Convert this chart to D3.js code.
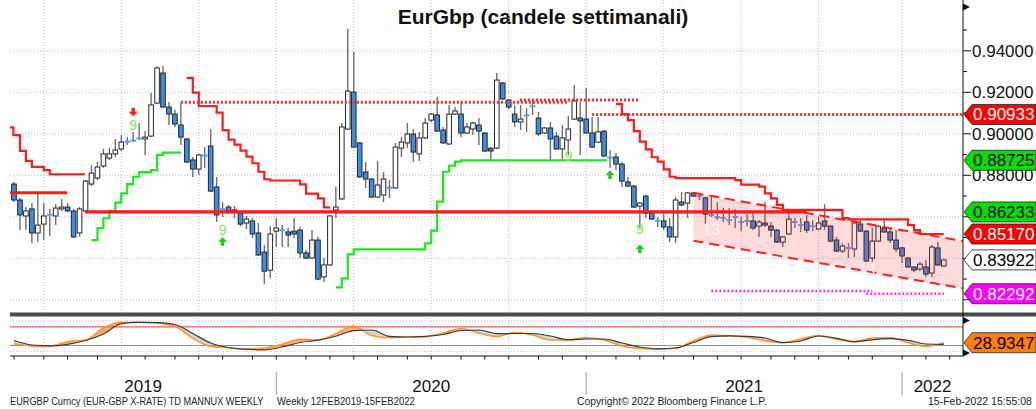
<!DOCTYPE html>
<html><head><meta charset="utf-8">
<script src="https://cdn.jsdelivr.net/npm/d3@7"></script>
<style>body{margin:0;background:#fff}svg{display:block}</style>
</head><body>
<svg id="c" width="1036" height="409"></svg>
<script>
// ---------- DATA (weekly EUR/GBP, bar 0 = week of 15 Feb 2019) ----------
const open = [0.8758,0.8681,0.8604,0.8638,0.8522,0.8565,0.8611,0.8604,0.8638,0.8647,
0.8628,0.8522,0.8628,0.8758,0.8787,0.8845,0.8883,0.8903,0.8927,0.8963,
0.8968,0.8975,0.8975,0.8989,0.9148,0.9293,0.9129,0.9095,0.9042,0.8975,
0.8874,0.8830,0.8896,0.8941,0.8744,0.8638,0.8647,0.8633,0.8618,0.8570,
0.8580,0.8522,0.8430,0.8343,0.8531,0.8536,0.8527,0.8531,0.8536,0.8426,
0.8401,0.8488,0.8310,0.8368,0.8633,0.8686,0.9023,0.9201,0.8956,0.8816,
0.8782,0.8695,0.8705,0.8739,0.8739,0.8931,0.8956,0.8999,0.8903,0.8980,
0.9066,0.9091,0.9018,0.8951,0.9095,0.9095,0.9004,0.9023,0.9042,0.9004,
0.8931,0.8931,0.9245,0.9163,0.9095,0.9057,0.9090,0.9134,0.9076,0.9004,
0.9028,0.8989,0.8927,0.8970,0.9071,0.9076,0.9071,0.9004,0.8960,0.9013,
0.8886,0.8888,0.8854,0.8768,0.8748,0.8652,0.8700,0.8618,0.8582,0.8580,
0.8551,0.8503,0.8671,0.8666,0.8715,0.8701,0.8691,0.8610,0.8601,0.8595,
0.8585,0.8600,0.8576,0.8581,0.8580,0.8555,0.8570,0.8555,0.8536,0.8478,
0.8517,0.8576,0.8561,0.8575,0.8556,0.8541,0.8580,0.8555,0.8488,0.8435,
0.8451,0.8445,0.8565,0.8531,0.8401,0.8483,0.8546,0.8527,0.8488,0.8450,
0.8401,0.8358,0.8348,0.8358,0.8329,0.8450,0.8363];
const high = [0.8768,0.8691,0.8647,0.8666,0.8715,0.8666,0.8638,0.8662,0.8686,0.8666,
0.8638,0.8647,0.8777,0.8850,0.8864,0.8927,0.8931,0.8975,0.8994,0.8984,
0.9009,0.9052,0.9013,0.9197,0.9327,0.9327,0.9153,0.9115,0.9148,0.8980,
0.8888,0.8903,0.8936,0.9023,0.8792,0.8671,0.8657,0.8652,0.8628,0.8604,
0.8594,0.8570,0.8464,0.8555,0.8594,0.8560,0.8546,0.8594,0.8551,0.8440,
0.8536,0.8503,0.8401,0.8609,0.8744,0.9052,0.9505,0.9394,0.8960,0.8864,
0.8787,0.8869,0.8816,0.8777,0.8956,0.8984,0.9052,0.9023,0.9009,0.9076,
0.9100,0.9177,0.9033,0.9139,0.9129,0.9153,0.9052,0.9057,0.9076,0.9009,
0.8936,0.9293,0.9250,0.9168,0.9139,0.9139,0.9124,0.9153,0.9105,0.9033,
0.9057,0.9009,0.9042,0.9086,0.9235,0.9153,0.9221,0.9081,0.9081,0.9018,
0.8922,0.8907,0.8864,0.8792,0.8753,0.8671,0.8705,0.8633,0.8599,0.8633,
0.8594,0.8695,0.8720,0.8720,0.8720,0.8715,0.8695,0.8695,0.8671,0.8642,
0.8642,0.8638,0.8599,0.8613,0.8618,0.8584,0.8671,0.8575,0.8541,0.8507,
0.8618,0.8594,0.8594,0.8609,0.8584,0.8599,0.8662,0.8560,0.8503,0.8474,
0.8474,0.8584,0.8584,0.8536,0.8546,0.8560,0.8594,0.8546,0.8536,0.8454,
0.8406,0.8363,0.8382,0.8392,0.8464,0.8478,0.8397];
const low = [0.8671,0.8536,0.8536,0.8474,0.8478,0.8488,0.8507,0.8560,0.8628,0.8623,
0.8498,0.8503,0.8623,0.8748,0.8777,0.8835,0.8874,0.8888,0.8917,0.8946,
0.8960,0.8970,0.8898,0.8984,0.9144,0.9124,0.9042,0.9033,0.8946,0.8859,
0.8792,0.8801,0.8835,0.8720,0.8575,0.8599,0.8613,0.8594,0.8555,0.8541,
0.8498,0.8411,0.8276,0.8305,0.8454,0.8454,0.8454,0.8498,0.8401,0.8397,
0.8397,0.8295,0.8286,0.8363,0.8594,0.8681,0.9018,0.8931,0.8787,0.8739,
0.8691,0.8691,0.8671,0.8691,0.8734,0.8888,0.8931,0.8864,0.8869,0.8975,
0.9057,0.9009,0.8951,0.8946,0.9091,0.8984,0.8999,0.8994,0.8946,0.8912,
0.8874,0.8927,0.9163,0.9119,0.9033,0.9018,0.9009,0.9091,0.8989,0.8999,
0.8874,0.8922,0.8874,0.8898,0.9066,0.8898,0.8999,0.8931,0.8956,0.8888,
0.8835,0.8825,0.8744,0.8744,0.8642,0.8546,0.8594,0.8584,0.8551,0.8536,
0.8478,0.8474,0.8652,0.8594,0.8695,0.8681,0.8560,0.8599,0.8584,0.8575,
0.8560,0.8546,0.8531,0.8555,0.8536,0.8503,0.8551,0.8503,0.8474,0.8454,
0.8512,0.8546,0.8527,0.8522,0.8531,0.8536,0.8536,0.8478,0.8430,0.8426,
0.8401,0.8406,0.8527,0.8382,0.8382,0.8478,0.8522,0.8474,0.8430,0.8377,
0.8353,0.8334,0.8338,0.8310,0.8310,0.8363,0.8358];
const close = [0.8681,0.8609,0.8628,0.8522,0.8560,0.8604,0.8609,0.8642,0.8647,0.8628,
0.8503,0.8638,0.8772,0.8811,0.8840,0.8903,0.8903,0.8922,0.8960,0.8961,
0.8966,0.8980,0.8984,0.9139,0.9317,0.9129,0.9095,0.9047,0.8984,0.8864,
0.8830,0.8898,0.8894,0.8724,0.8609,0.8636,0.8628,0.8623,0.8565,0.8589,
0.8517,0.8416,0.8338,0.8517,0.8546,0.8534,0.8512,0.8517,0.8426,0.8401,
0.8488,0.8300,0.8368,0.8604,0.8647,0.9033,0.9206,0.8936,0.8792,0.8782,
0.8695,0.8753,0.8782,0.8741,0.8936,0.8960,0.8999,0.8912,0.8980,0.9052,
0.9095,0.9013,0.8956,0.9095,0.9110,0.9004,0.9033,0.9052,0.9013,0.8917,
0.8917,0.9259,0.9168,0.9129,0.9057,0.9071,0.9088,0.9132,0.8999,0.9028,
0.8975,0.8927,0.8980,0.9023,0.9158,0.9062,0.9004,0.8936,0.9009,0.8893,
0.8884,0.8854,0.8772,0.8748,0.8647,0.8666,0.8618,0.8589,0.8580,0.8551,
0.8503,0.8681,0.8657,0.8715,0.8700,0.8699,0.8613,0.8608,0.8594,0.8593,
0.8583,0.8598,0.8574,0.8579,0.8546,0.8575,0.8560,0.8536,0.8478,0.8503,
0.8589,0.8574,0.8559,0.8536,0.8554,0.8570,0.8555,0.8483,0.8435,0.8459,
0.8449,0.8570,0.8531,0.8387,0.8483,0.8555,0.8527,0.8488,0.8445,0.8411,
0.8358,0.8343,0.8372,0.8324,0.8454,0.8368,0.83922];

// stepped TD lines: [bar index, value]
const resist1 = [[-0.7,0.9031],[-0.1,0.8994],[1,0.8918],[2,0.8870],[3,0.8841],[5,0.8825],[6,0.8805],[11.9,0.8805]];
const resist2 = [[29,0.9270],[30,0.9198],[31,0.9134],[34,0.9102],[35,0.9018],[36,0.8972],[37,0.8948],[38,0.8919],[39,0.8890],[40,0.8858],[41,0.8817],[42,0.8781],[43,0.8775],[48,0.8756],[49,0.8712],[51,0.8689],[52,0.8645],[53,0.8645]];
const resist3 = [[101,0.9144],[102,0.9095],[103,0.9066],[104,0.9013],[105,0.8962],[106,0.8925],[107,0.8887],[108,0.8866],[109,0.8829],[110,0.8793],[111,0.8786],[121,0.8777],[122,0.8755],[125,0.8745],[126,0.8713],[127,0.8689],[128,0.8657],[129,0.8633],[139,0.8594],[140,0.8588],[150,0.8560],[151,0.8536],[152,0.8517],[156,0.8517]];
const support1 = [[13,0.8488],[14,0.8545],[15,0.8593],[16,0.8629],[17,0.8668],[18,0.8713],[19,0.8757],[20,0.8793],[21,0.8815],[23,0.8825],[24,0.8898],[25,0.8909],[28,0.8909]];
const support2 = [[54,0.8260],[55,0.8303],[56,0.8419],[57,0.8443],[69,0.8472],[70,0.8533],[71,0.8673],[72,0.8817],[73,0.8846],[74,0.8866],[75,0.88725],[99.5,0.88725]];
// horizontal levels: [from bar, to bar, value]
const thickLevels = [[-0.7,8.9,0.8716],[11.9,133,0.86233]];
const redDotted = [[28,92.8,0.9152],[84.9,105,0.9163],[97,160,0.90933]];
const magentaDotted = [[117,144,0.8242],[143,156,0.82292]];
// regression channel: [bar index, upper, lower]
const channel = [[114,0.8716,0.8485],[159.2,0.8483,0.8255]];
// TD count annotations: [bar index, value, text]
const countLabels = [[20,0.9042,'9'],[35,0.8536,'9'],[93,0.8893,'9'],[105,0.8541,'9']];
const count13 = [[117,0.8540,'13'],[143,0.8346,'13']];
const upArrows = [[35,0.8480],[100,0.8801],[105,0.8445]];
const downArrows = [[20,0.9106]];
// oscillator (lower panel), sampled every 3 bars
const oscIdx = d3.range(0,157,3);
const oscBlack = [36.1,21.6,19.0,23.9,36.1,57.1,90.3,94.8,93.6,87.7,58.7,28.1,13.5,8.1,6.1,15.2,29.7,37.1,49.7,68.1,70.0,49.7,47.4,49.7,55.5,68.4,70.0,58.4,58.7,58.7,50.6,38.7,41.0,41.0,28.1,15.2,9.4,11.9,29.7,48.4,51.3,49.7,44.2,29.0,34.5,50.6,43.2,31.9,38.4,41.9,36.8,24.8,23.9];
const oscOrange = [25.5,18.4,17.7,32.3,37.7,76.5,94.8,94.8,92.9,82.3,43.2,17.1,12.6,7.4,11.9,23.9,40.0,37.7,58.1,82.9,52.3,44.8,48.4,48.4,60.3,74.8,60.3,49.0,61.9,53.9,37.7,37.7,45.2,37.7,18.4,10.3,8.1,11.0,34.5,53.9,51.3,46.5,35.5,29.7,41.0,52.3,40.0,32.9,44.2,45.5,28.7,16.8,28.93];
const oscLevels = [80,20];
// right axis
const priceTicks = [0.82,0.84,0.86,0.88,0.90,0.92,0.94];
const minorTicks = [0.83,0.85,0.87,0.89,0.91,0.93,0.95];
const tags = [[0.90933,'#ff0000','#ffffff'],[0.88725,'#00e000','#000000'],[0.86233,'#00e000','#000000'],[0.85170,'#ff0000','#ffffff'],[0.83922,'#ffffff','#000000'],[0.82292,'#ff00ff','#ffffff']];
const oscTag = [28.9347,'#ff8000','#000000'];
const yearLabels = ['2019','2020','2021','2022'];

// ---------- LAYOUT ----------
const svg = d3.select('#c');
const plotL = 10, plotR = 963, mainBot = 312;
const x = d3.scaleLinear().domain([0,156]).range([14,943.8]);
const y = d3.scaleLinear().domain([0.84,0.94]).range([258.3,50.8]);
const yo = d3.scaleLinear().domain([0,100]).range([351.7,320.7]);
const FONT = '"Liberation Sans", Arial, sans-serif';

const defs = svg.append('defs');
defs.append('clipPath').attr('id','mainClip').append('rect').attr('x',plotL).attr('y',0).attr('width',plotR-plotL).attr('height',mainBot);
defs.append('clipPath').attr('id','oscClip').append('rect').attr('x',plotL).attr('y',317).attr('width',plotR-plotL).attr('height',39);

// month ticks (placed two bars before the first bar of each month, as in the reference)
const firstBar = new Date(2019,1,15);
const DAY = 864e5;
const months = d3.timeMonth.range(new Date(2019,2,1), new Date(2022,3,1));
const monthX = m => x(Math.round((d3.timeFriday.ceil(m) - firstBar)/(7*DAY)) - 2);
const ticks = months.map(m => ({m, x: monthX(m)})).filter(t => t.x >= plotL-1 && t.x <= plotR);

// title
svg.append('text').attr('x',543).attr('y',24).attr('text-anchor','middle')
  .style('font','bold 21px '+FONT).attr('fill','#111').text('EurGbp (candele settimanali)');

// gridlines
const g = svg.append('g');
g.selectAll('.hg').data(priceTicks).join('line')
  .attr('x1',plotL).attr('x2',plotR).attr('y1',d=>y(d)).attr('y2',d=>y(d))
  .attr('stroke','#b9bdd2').attr('stroke-width',1).attr('stroke-dasharray','1,2');
const qt = ticks.filter(t => t.m.getMonth()%3===0);
g.selectAll('.vg').data(qt).join('line')
  .attr('x1',d=>d.x).attr('x2',d=>d.x).attr('y1',0).attr('y2',mainBot)
  .attr('stroke','#b9bdd2').attr('stroke-dasharray','1,2');
g.selectAll('.vg2').data(qt).join('line')
  .attr('x1',d=>d.x).attr('x2',d=>d.x).attr('y1',318).attr('y2',356)
  .attr('stroke','#b9bdd2').attr('stroke-dasharray','1,2');

// candles
const main = svg.append('g').attr('clip-path','url(#mainClip)');
const bars = d3.range(open.length).map(i => ({i,o:open[i],h:high[i],l:low[i],c:close[i]}));
const bw = 4.6;
main.selectAll('.wick').data(bars).join('line')
  .attr('x1',d=>x(d.i)).attr('x2',d=>x(d.i)).attr('y1',d=>y(d.h)).attr('y2',d=>y(d.l))
  .attr('stroke','#6f6f6f').attr('stroke-width',1.4);
bars.forEach(d => {
  const y1 = y(Math.max(d.o,d.c)), y2 = y(Math.min(d.o,d.c));
  if (y2 - y1 < 1.6) {
    main.append('rect').attr('x',x(d.i)-2.8).attr('y',(y1+y2)/2-1).attr('width',5.6).attr('height',2)
      .attr('fill','#5a9ff0');
  } else {
    main.append('rect').attr('x',x(d.i)-bw/2).attr('y',y1).attr('width',bw).attr('height',y2-y1)
      .attr('fill', d.c>=d.o ? '#ffffff' : '#3b8ee8').attr('stroke','#262626').attr('stroke-width',1);
  }
});

// channel
const chArea = d3.area().x(d=>x(d[0])).y0(d=>y(d[2])).y1(d=>y(d[1]));
main.append('path').datum(channel).attr('d',chArea).attr('fill','rgba(255,40,40,0.17)');
[1,2].forEach(k => {
  main.append('path').datum(channel).attr('d',d3.line().x(d=>x(d[0])).y(d=>y(d[k])))
    .attr('fill','none').attr('stroke','#ff2020').attr('stroke-width',2).attr('stroke-dasharray','10,6');
});

// stepped lines
const step = d3.line().x(d=>x(d[0])).y(d=>y(d[1])).curve(d3.curveStepAfter);
[resist1,resist2,resist3].forEach(s => main.append('path').datum(s).attr('d',step)
  .attr('fill','none').attr('stroke','#ff1a1a').attr('stroke-width',2.2));
[support1,support2].forEach(s => main.append('path').datum(s).attr('d',step)
  .attr('fill','none').attr('stroke','#1ee81e').attr('stroke-width',2.2));
main.selectAll('.lv').data(thickLevels).join('line')
  .attr('x1',d=>x(d[0])).attr('x2',d=>x(d[1])).attr('y1',d=>y(d[2])).attr('y2',d=>y(d[2]))
  .attr('stroke','#ff1a1a').attr('stroke-width',3.2);
main.selectAll('.rd').data(redDotted).join('line')
  .attr('x1',d=>x(d[0])).attr('x2',d=>x(d[1])).attr('y1',d=>y(d[2])).attr('y2',d=>y(d[2]))
  .attr('stroke','#ff2a2a').attr('stroke-width',3).attr('stroke-dasharray','2,2');
main.selectAll('.md').data(magentaDotted).join('line')
  .attr('x1',d=>x(d[0])).attr('x2',d=>x(d[1])).attr('y1',d=>y(d[2])).attr('y2',d=>y(d[2]))
  .attr('stroke','#ff30ff').attr('stroke-width',2.5).attr('stroke-dasharray','2,2');

// annotations
main.selectAll('.cnt').data(countLabels).join('text')
  .attr('x',d=>x(d[0])).attr('y',d=>y(d[1])+5).attr('text-anchor','middle')
  .style('font','14px '+FONT).attr('fill','#86e860').text(d=>d[2]);
main.selectAll('.c13').data(count13).join('text')
  .attr('x',d=>x(d[0])).attr('y',d=>y(d[1])+6).attr('text-anchor','middle')
  .style('font','16px '+FONT).attr('fill','#fff4f4').text(d=>d[2]);
const arrowUp = (cx,cy) => `M${cx},${cy-4.5}L${cx+4.5},${cy}L${cx+1.7},${cy}L${cx+1.7},${cy+4}L${cx-1.7},${cy+4}L${cx-1.7},${cy}L${cx-4.5},${cy}Z`;
const arrowDn = (cx,cy) => `M${cx},${cy+4.5}L${cx+4.5},${cy}L${cx+1.7},${cy}L${cx+1.7},${cy-4}L${cx-1.7},${cy-4}L${cx-1.7},${cy}L${cx-4.5},${cy}Z`;
main.selectAll('.au').data(upArrows).join('path').attr('d',d=>arrowUp(x(d[0]),y(d[1]))).attr('fill','#18d018');
main.selectAll('.ad').data(downArrows).join('path').attr('d',d=>arrowDn(x(d[0]),y(d[1]))).attr('fill','#ff2020');

// separator
svg.append('rect').attr('x',plotL).attr('y',312.5).attr('width',1036-plotL).attr('height',4).attr('fill','#4b4b4b');

// oscillator panel
const osc = svg.append('g').attr('clip-path','url(#oscClip)');
osc.selectAll('.og').data([100,0]).join('line')
  .attr('x1',plotL).attr('x2',plotR).attr('y1',d=>yo(d)).attr('y2',d=>yo(d))
  .attr('stroke','#b9bdd2').attr('stroke-dasharray','1,2');
const od = oscIdx.map((idx,k) => ({i:idx, b:oscBlack[k], o:oscOrange[k]}));
const cur = d3.curveMonotoneX;
defs.append('clipPath').attr('id','aboveB').append('path')
  .attr('d', d3.area().x(d=>x(d.i)).y0(300).y1(d=>yo(d.b)).curve(cur)(od));
defs.append('clipPath').attr('id','belowB').append('path')
  .attr('d', d3.area().x(d=>x(d.i)).y0(d=>yo(d.b)).y1(370).curve(cur)(od));
const band = d3.area().x(d=>x(d.i)).y0(d=>yo(d.b)).y1(d=>yo(d.o)).curve(cur);
osc.append('g').attr('clip-path','url(#aboveB)').append('path').datum(od).attr('d',band).attr('fill','#ffb07a');
osc.append('g').attr('clip-path','url(#belowB)').append('path').datum(od).attr('d',band).attr('fill','#d6d6d6');
osc.selectAll('.ol').data(oscLevels).join('line')
  .attr('x1',plotL).attr('x2',plotR).attr('y1',d=>yo(d)).attr('y2',d=>yo(d))
  .attr('stroke',d=>d>50?'#ff5a5a':'#3ccc3c').attr('stroke-width',1.2);
osc.append('path').datum(od).attr('d',d3.line().x(d=>x(d.i)).y(d=>yo(d.o)).curve(cur))
  .attr('fill','none').attr('stroke','#ff9530').attr('stroke-width',1.6);
osc.append('path').datum(od).attr('d',d3.line().x(d=>x(d.i)).y(d=>yo(d.b)).curve(cur))
  .attr('fill','none').attr('stroke','#3a3a3a').attr('stroke-width',1.2);

// bottom axis
svg.append('line').attr('x1',plotL).attr('x2',plotR).attr('y1',356).attr('y2',356).attr('stroke','#111');
svg.selectAll('.mt').data(ticks).join('line')
  .attr('x1',d=>d.x).attr('x2',d=>d.x).attr('y1',356).attr('y2',359.5).attr('stroke','#111');
const janX = [2020,2021,2022].map(yr => monthX(new Date(yr,0,1)));
svg.selectAll('.ys').data(janX).join('line')
  .attr('x1',d=>d).attr('x2',d=>d).attr('y1',372).attr('y2',395).attr('stroke','#9a9a9a');
const bounds = [plotL, ...janX, plotR];
svg.selectAll('.yl').data(yearLabels).join('text')
  .attr('x',(d,k)=>(bounds[k]+bounds[k+1])/2).attr('y',391.5).attr('text-anchor','middle')
  .style('font','17px '+FONT).attr('fill','#111').text(d=>d);

// right axis
svg.append('line').attr('x1',plotR).attr('x2',plotR).attr('y1',0).attr('y2',356).attr('stroke','#111');
[7, 320.5, 353].forEach(cy => svg.append('path').attr('d',`M${plotR},${cy-3.5}L${plotR+7},${cy}L${plotR},${cy+3.5}Z`).attr('fill','#111'));
svg.selectAll('.pt').data(priceTicks).join('line')
  .attr('x1',plotR).attr('x2',plotR+8).attr('y1',d=>y(d)).attr('y2',d=>y(d)).attr('stroke','#111');
svg.selectAll('.pmt').data(minorTicks).join('line')
  .attr('x1',plotR).attr('x2',plotR+4).attr('y1',d=>y(d)).attr('y2',d=>y(d)).attr('stroke','#111');
// tick labels that the value tags fully cover are not printed (they are hidden in the reference)
const tagY = tags.map(t => y(t[0]));
const visibleTicks = priceTicks.filter(v => tagY.every(ty => Math.abs(ty - y(v)) > 8));
svg.selectAll('.ptl').data(visibleTicks).join('text')
  .attr('x',972).attr('y',d=>y(d)+6).style('font','17px '+FONT).attr('fill','#111')
  .text(d=>d3.format('.5f')(d));
const tagPath = cy => `M${plotR+1},${cy}L${plotR+9},${cy-10}L1036,${cy-10}L1036,${cy+10}L${plotR+9},${cy+10}Z`;
tags.forEach(t => {
  const cy = y(t[0]);
  svg.append('path').attr('d',tagPath(cy)).attr('fill',t[1]).attr('stroke','#222').attr('stroke-width',0.8);
  svg.append('text').attr('x',973).attr('y',cy+6).style('font','17px '+FONT).attr('fill',t[2]).text(d3.format('.5f')(t[0]));
});
{
  const cy = yo(oscTag[0]);
  svg.append('path').attr('d',tagPath(cy)).attr('fill',oscTag[1]).attr('stroke','#222').attr('stroke-width',0.8);
  svg.append('text').attr('x',973).attr('y',cy+6).style('font','17px '+FONT).attr('fill',oscTag[2]).text(d3.format('.4f')(oscTag[0]));
}

// footer (horizontally scaled to the reference widths)
const foot = [[10,254,'EURGBP Curncy (EUR-GBP X-RATE) TD MANNUX WEEKLY'],[277,138,'Weekly 12FEB2019-15FEB2022'],
  [577,190,'Copyright\u00a9 2022 Bloomberg Finance L.P.'],[928,104,'15-Feb-2022 15:55:08']];
foot.forEach(f => {
  const gt = svg.append('g');
  const t = gt.append('text').attr('x',0).attr('y',0).style('font','11px '+FONT).attr('fill','#222').text(f[2]);
  const w = t.node().getComputedTextLength();
  gt.attr('transform',`translate(${f[0]},405) scale(${Math.min(1,f[1]/w)},1)`);
});
</script>
</body></html>
